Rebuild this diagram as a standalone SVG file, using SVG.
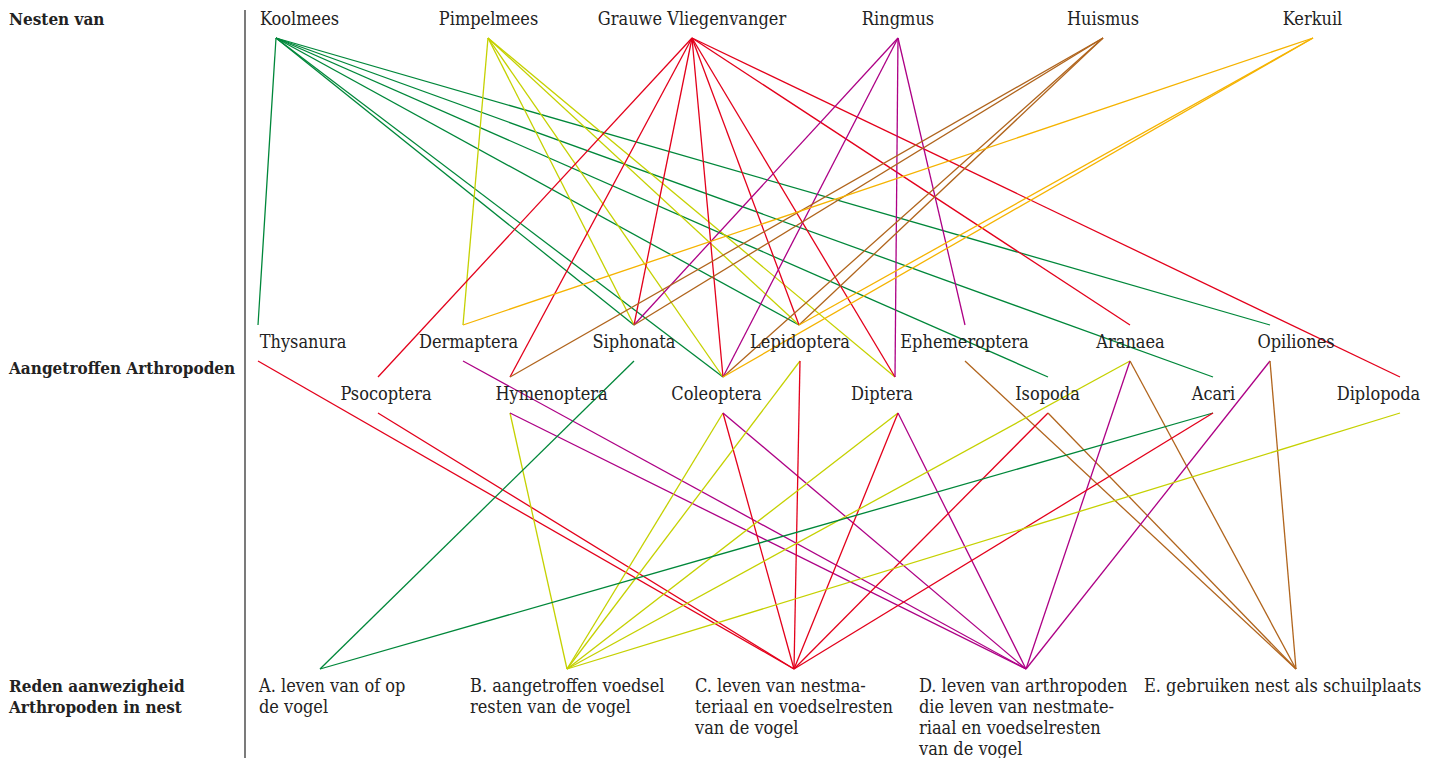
<svg xmlns="http://www.w3.org/2000/svg" width="1440" height="758" viewBox="0 0 1440 758">
<style>
text{font-family:"DejaVu Serif Condensed","DejaVu Serif",serif;font-stretch:condensed;font-size:18px;fill:#222}
.h{font-weight:bold;font-size:17px}
.m{text-anchor:middle}
line{stroke-width:1.3;fill:none}
.g{stroke:#00873a}.y{stroke:#c5d100}.r{stroke:#e3001b}.p{stroke:#ad0085}.b{stroke:#b0641c}.o{stroke:#f5b300}
</style>
<rect width="1440" height="758" fill="#fff"/>
<g id="axis"><line x1="245" y1="10" x2="245" y2="758" stroke="#333" stroke-width="1"/></g>
<g id="row-labels">
<text class="h" x="9" y="25">Nesten van</text>
<text class="h" x="9" y="374">Aangetroffen Arthropoden</text>
<text class="h" x="9" y="692">Reden aanwezigheid</text>
<text class="h" x="9" y="713">Arthropoden in nest</text>
</g>
<g id="connectors">
<!-- Koolmees -->
<line class="g" x1="276" y1="38" x2="258" y2="325"/>
<line class="g" x1="276" y1="38" x2="634" y2="325"/>
<line class="g" x1="276" y1="38" x2="723" y2="377"/>
<line class="g" x1="276" y1="38" x2="799" y2="325"/>
<line class="g" x1="276" y1="38" x2="1048" y2="377"/>
<line class="g" x1="276" y1="38" x2="1213" y2="377"/>
<line class="g" x1="276" y1="38" x2="1270" y2="325"/>
<!-- Pimpelmees -->
<line class="y" x1="488" y1="38" x2="463" y2="325"/>
<line class="y" x1="488" y1="38" x2="634" y2="325"/>
<line class="y" x1="488" y1="38" x2="723" y2="377"/>
<line class="y" x1="488" y1="38" x2="799" y2="325"/>
<line class="y" x1="488" y1="38" x2="895" y2="377"/>
<!-- Grauwe Vliegenvanger -->
<line class="r" x1="692" y1="38" x2="378" y2="377"/>
<line class="r" x1="692" y1="38" x2="510" y2="377"/>
<line class="r" x1="692" y1="38" x2="634" y2="325"/>
<line class="r" x1="692" y1="38" x2="723" y2="377"/>
<line class="r" x1="692" y1="38" x2="799" y2="325"/>
<line class="r" x1="692" y1="38" x2="895" y2="377"/>
<line class="r" x1="692" y1="38" x2="1130" y2="325"/>
<line class="r" x1="692" y1="38" x2="1400" y2="377"/>
<!-- Ringmus -->
<line class="p" x1="898" y1="38" x2="634" y2="325"/>
<line class="p" x1="898" y1="38" x2="723" y2="377"/>
<line class="p" x1="898" y1="38" x2="895" y2="377"/>
<line class="p" x1="898" y1="38" x2="965" y2="325"/>
<!-- Huismus -->
<line class="b" x1="1103" y1="38" x2="510" y2="377"/>
<line class="b" x1="1103" y1="38" x2="634" y2="325"/>
<line class="b" x1="1103" y1="38" x2="723" y2="377"/>
<line class="b" x1="1103" y1="38" x2="799" y2="325"/>
<!-- Kerkuil -->
<line class="o" x1="1313" y1="38" x2="463" y2="325"/>
<line class="o" x1="1313" y1="38" x2="723" y2="377"/>
<line class="o" x1="1313" y1="38" x2="799" y2="325"/>
<!-- Arthropoden to reasons -->
<line class="r" x1="258" y1="361" x2="794" y2="669"/>
<line class="r" x1="378" y1="413" x2="794" y2="669"/>
<line class="p" x1="463" y1="361" x2="1026" y2="669"/>
<line class="y" x1="510" y1="413" x2="567" y2="669"/>
<line class="p" x1="510" y1="413" x2="1026" y2="669"/>
<line class="g" x1="634" y1="361" x2="320" y2="669"/>
<line class="y" x1="723" y1="413" x2="567" y2="669"/>
<line class="r" x1="723" y1="413" x2="794" y2="669"/>
<line class="p" x1="723" y1="413" x2="1026" y2="669"/>
<line class="y" x1="800" y1="361" x2="567" y2="669"/>
<line class="r" x1="800" y1="361" x2="794" y2="669"/>
<line class="y" x1="898" y1="413" x2="567" y2="669"/>
<line class="r" x1="898" y1="413" x2="794" y2="669"/>
<line class="p" x1="898" y1="413" x2="1026" y2="669"/>
<line class="b" x1="965" y1="361" x2="1296" y2="669"/>
<line class="r" x1="1048" y1="413" x2="794" y2="669"/>
<line class="b" x1="1048" y1="413" x2="1296" y2="669"/>
<line class="y" x1="1130" y1="361" x2="567" y2="669"/>
<line class="p" x1="1130" y1="361" x2="1026" y2="669"/>
<line class="b" x1="1130" y1="361" x2="1296" y2="669"/>
<line class="g" x1="1213" y1="413" x2="320" y2="669"/>
<line class="r" x1="1213" y1="413" x2="794" y2="669"/>
<line class="p" x1="1270" y1="361" x2="1026" y2="669"/>
<line class="b" x1="1270" y1="361" x2="1296" y2="669"/>
<line class="y" x1="1400" y1="413" x2="567" y2="669"/>
</g>
<g id="koolmees"><text class="m" x="299.5" y="25">Koolmees</text></g>
<g id="pimpelmees"><text class="m" x="488.5" y="25">Pimpelmees</text></g>
<g id="grauwe-vliegenvanger"><text class="m" x="692" y="25">Grauwe Vliegenvanger</text></g>
<g id="ringmus"><text class="m" x="898" y="25">Ringmus</text></g>
<g id="huismus"><text class="m" x="1103" y="25">Huismus</text></g>
<g id="kerkuil"><text class="m" x="1312.5" y="25">Kerkuil</text></g>
<g id="thysanura"><text class="m" x="303" y="348">Thysanura</text></g>
<g id="dermaptera"><text class="m" x="468.5" y="348">Dermaptera</text></g>
<g id="siphonata"><text class="m" x="634" y="348">Siphonata</text></g>
<g id="lepidoptera"><text class="m" x="800" y="348">Lepidoptera</text></g>
<g id="ephemeroptera"><text class="m" x="964.5" y="348">Ephemeroptera</text></g>
<g id="aranaea"><text class="m" x="1130.5" y="348">Aranaea</text></g>
<g id="opiliones"><text class="m" x="1296" y="348">Opiliones</text></g>
<g id="psocoptera"><text class="m" x="386" y="400">Psocoptera</text></g>
<g id="hymenoptera"><text class="m" x="551.5" y="400">Hymenoptera</text></g>
<g id="coleoptera"><text class="m" x="716.5" y="400">Coleoptera</text></g>
<g id="diptera"><text class="m" x="882" y="400">Diptera</text></g>
<g id="isopoda"><text class="m" x="1047.5" y="400">Isopoda</text></g>
<g id="acari"><text class="m" x="1213.5" y="400">Acari</text></g>
<g id="diplopoda"><text class="m" x="1378.5" y="400">Diplopoda</text></g>
<g id="reason-a"><text x="259" y="692">A. leven van of op</text><text x="259" y="713">de vogel</text></g>
<g id="reason-b"><text x="470" y="692">B. aangetroffen voedsel</text><text x="470" y="713">resten van de vogel</text></g>
<g id="reason-c"><text x="695" y="692">C. leven van nestma-</text><text x="695" y="713">teriaal en voedselresten</text><text x="695" y="734">van de vogel</text></g>
<g id="reason-d"><text x="919" y="692">D. leven van arthropoden</text><text x="919" y="713">die leven van nestmate-</text><text x="919" y="734">riaal en voedselresten</text><text x="919" y="755">van de vogel</text></g>
<g id="reason-e"><text x="1144" y="692">E. gebruiken nest als schuilplaats</text></g>
</svg>
